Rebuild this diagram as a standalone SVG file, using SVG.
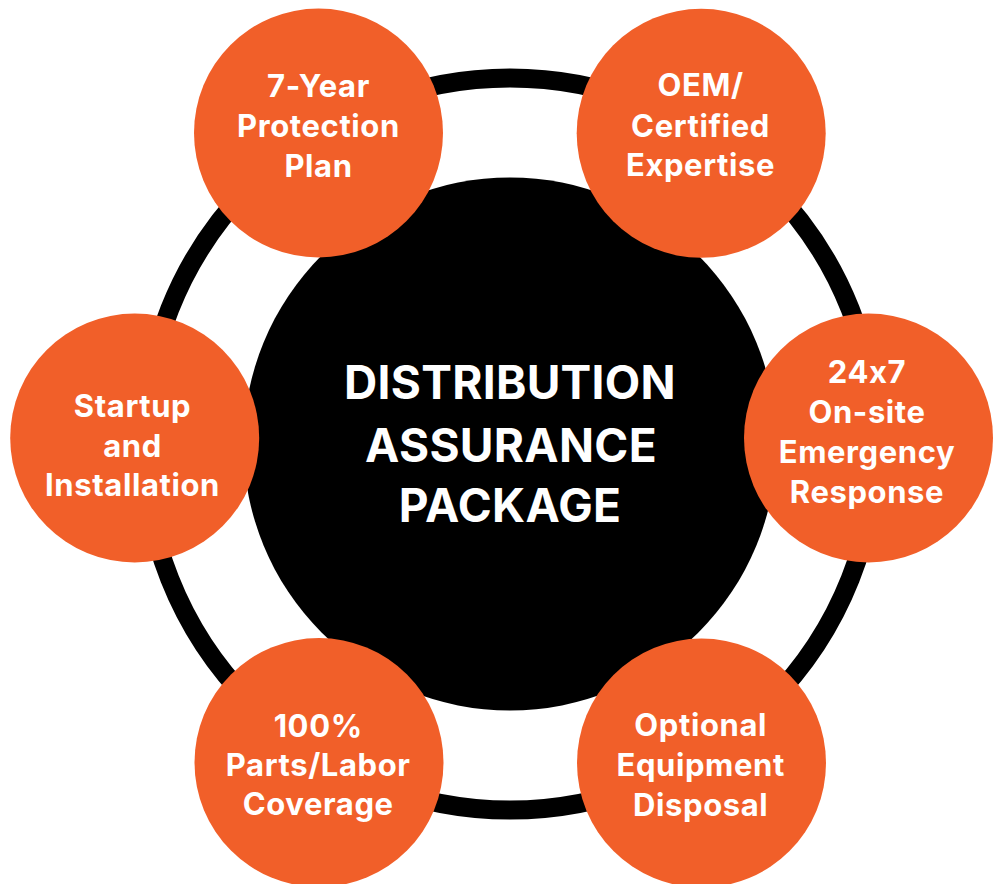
<svg xmlns="http://www.w3.org/2000/svg" width="998" height="884" viewBox="0 0 998 884">
  <style>
    .ring { fill: none; stroke: #000; stroke-width: 19; }
    .hub { fill: #000; }
    .node { fill: #F15F29; }
    .t { font-family: Inter, "Liberation Sans", Arial, sans-serif; font-weight: 700; fill: #fff; text-anchor: middle; font-feature-settings: "calt" 0; font-variant-ligatures: none; }
    .nt { font-size: 31px; letter-spacing: 0.6px; }
    .ht { font-size: 46px; letter-spacing: 0.3px; }
  </style>
  <rect width="998" height="884" fill="#fff"/>
  <g id="connectors">
    <circle class="ring" cx="510" cy="444" r="366"/>
  </g>
  <g id="hub">
    <circle class="hub" cx="510" cy="444" r="266.5"/>
    <text class="t ht" x="510" y="398.5">DISTRIBUTION</text>
    <text class="t ht" x="511" y="461.5">ASSURANCE</text>
    <text class="t ht" x="510" y="521.5">PACKAGE</text>
  </g>
  <g id="node-protection">
    <circle class="node" cx="318.5" cy="133" r="124.5"/>
    <text class="t nt" x="318.5" y="96.7">7-Year</text>
    <text class="t nt" x="318.5" y="136.7">Protection</text>
    <text class="t nt" x="318.5" y="176.7">Plan</text>
  </g>
  <g id="node-oem">
    <circle class="node" cx="701.2" cy="133.3" r="124.5"/>
    <text class="t nt" x="700.5" y="96">OEM/</text>
    <text class="t nt" x="700.5" y="136.5">Certified</text>
    <text class="t nt" x="700.5" y="176.3">Expertise</text>
  </g>
  <g id="node-startup">
    <circle class="node" cx="134.7" cy="438" r="124.5"/>
    <text class="t nt" x="132.5" y="417.3">Startup</text>
    <text class="t nt" x="132.5" y="456.7">and</text>
    <text class="t nt" x="132.5" y="496">Installation</text>
  </g>
  <g id="node-emergency">
    <circle class="node" cx="868.5" cy="438" r="124.5"/>
    <text class="t nt" x="867" y="383.3">24x7</text>
    <text class="t nt" x="867" y="423.3">On-site</text>
    <text class="t nt" x="867" y="463.3">Emergency</text>
    <text class="t nt" x="867" y="503.3">Response</text>
  </g>
  <g id="node-coverage">
    <circle class="node" cx="319" cy="762.5" r="124.5"/>
    <text class="t nt" x="318.2" y="736.7">100%</text>
    <text class="t nt" x="318.2" y="776">Parts/Labor</text>
    <text class="t nt" x="318.2" y="815">Coverage</text>
  </g>
  <g id="node-disposal">
    <circle class="node" cx="701.5" cy="763" r="124.5"/>
    <text class="t nt" x="700.7" y="735.7">Optional</text>
    <text class="t nt" x="700.7" y="775.7">Equipment</text>
    <text class="t nt" x="700.7" y="815.7">Disposal</text>
  </g>
</svg>
